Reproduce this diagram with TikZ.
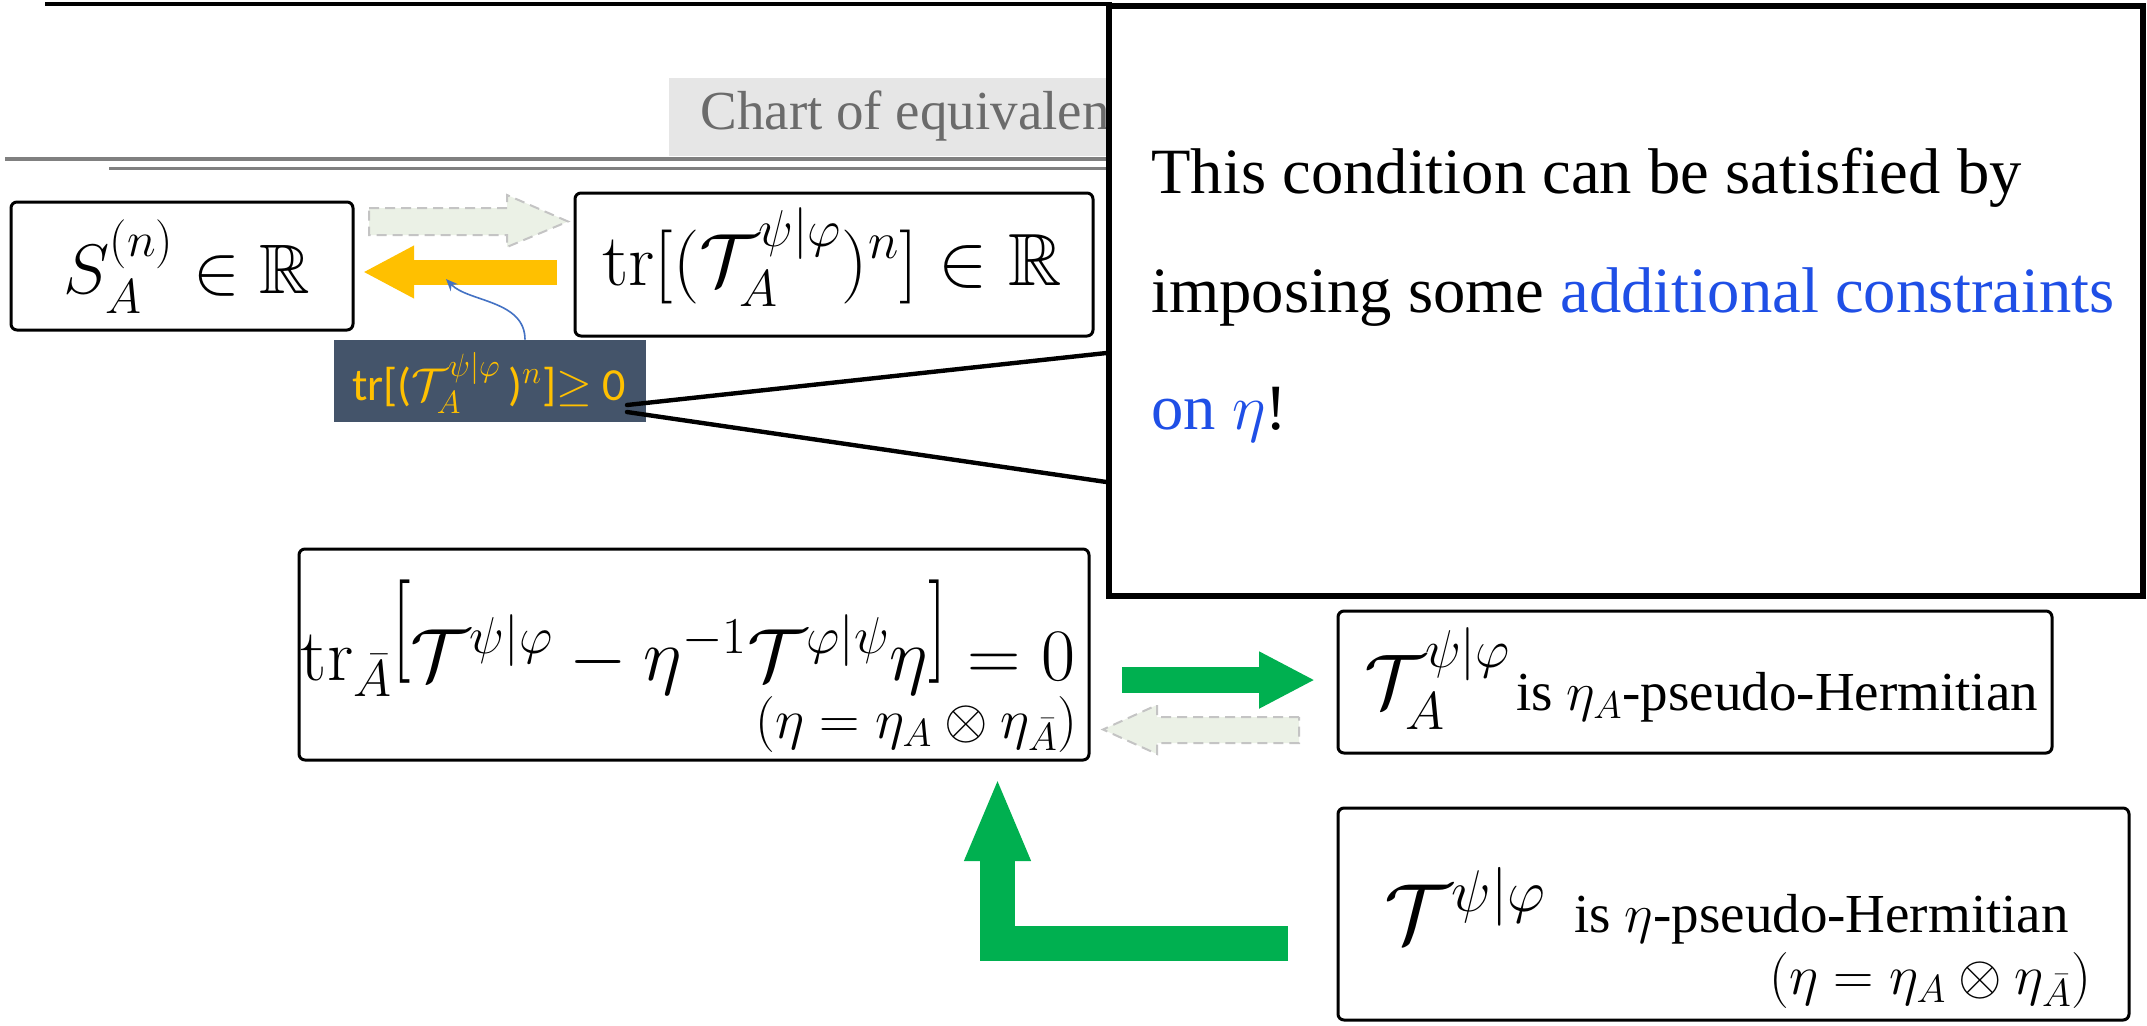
\RequirePackage{fix-cm}
\documentclass[tikz,border=0pt]{standalone}
\usepackage{amssymb}
\usepackage{graphicx}
\usepackage[no-math]{fontspec}
\setmainfont{Liberation Serif}
\newfontfamily\tms{Liberation Serif}
\newfontfamily\carlito{Carlito}
\usetikzlibrary{arrows.meta,fit}
\definecolor{orng}{HTML}{FFC000}
\definecolor{grn}{HTML}{00B050}
\definecolor{lblbg}{HTML}{44546A}
\definecolor{lightfill}{HTML}{EBF1E6}
\definecolor{lightedge}{HTML}{C4C4C4}
\definecolor{cblue}{HTML}{1F4FE6}
\definecolor{ttlgray}{HTML}{6B6B6B}
\definecolor{ttlbg}{HTML}{E6E6E6}
\definecolor{rulegray}{HTML}{808080}
\definecolor{curveblue}{HTML}{4472C4}
\newcommand{\rbl}{\mathopen{\raisebox{0.3em}{\scalebox{1}[1.4]{$[$}}}}
\newcommand{\rbr}{\mathclose{\raisebox{0.3em}{\scalebox{1}[1.4]{$]$}}}}
\tikzset{
  box/.style={draw=black, line width=1.5pt, rounded corners=3pt, inner sep=0pt},
  txt/.style={inner sep=0pt},
  ghost/.style={fill=lightfill, draw=lightedge, line width=1pt, dash pattern=on 5pt off 3pt},
  pointer/.style={line width=2.2pt, line cap=round},
}
\begin{document}
\begin{tikzpicture}[x=0.5pt,y=-0.5pt]
\useasboundingbox (0,0) rectangle (2147,1025);
\fill[white] (0,0) rectangle (2147,1025);
% header
\draw[line width=1.6pt] (45,4) -- (1112,4);
\fill[ttlbg] (669,78) rectangle (1112,156);
\node[txt, anchor=base west, text=ttlgray, font=\fontsize{27.5}{32}\selectfont\tms] (title) at (700,129) {Chart of equivalen};
\draw[rulegray, line width=2pt] (5,159) -- (1112,159);
\draw[rulegray, line width=1.5pt] (109,168) -- (1112,168);
% boxes
\node[box, fit={(11,202) (353,330)}] (S) {};
\node[txt, anchor=base, font=\fontsize{35}{42}\selectfont] (St) at (187,293) {$S_A^{(n)}\in\mathbb{R}$};
\node[box, fit={(575,193) (1093,336)}] (tr) {};
\node[txt, anchor=base, font=\fontsize{37}{44}\selectfont] (trt) at (832,285) {$\mathrm{tr}[(\mathcal{T}_A^{\psi|\varphi})^n]\in\mathbb{R}$};
\node[fit={(334,340) (646,422)}, fill=lblbg, inner sep=0pt] (lbl) {};
\node[txt, anchor=base, text=orng, font=\fontsize{23}{28}\selectfont\carlito] (lblt) at (489,400) {tr[($\mathcal{T}_A^{\psi|\varphi}$\,)$^n$]$\geq$ 0};
\node[box, fit={(299,549) (1089,760)}] (E) {};
\node[txt, anchor=base, font=\fontsize{37}{44}\selectfont] (Et1) at (688,680) {$\mathrm{tr}_{\bar A}\rbl\mathcal{T}^{\psi|\varphi}-\eta^{-1}\mathcal{T}^{\varphi|\psi}\eta\rbr=0$};
\node[txt, anchor=base east, font=\fontsize{28}{34}\selectfont] (Et2) at (1078,738) {$(\eta=\eta_A\otimes\eta_{\bar A})$};
\node[box, fit={(1338,611) (2052,753)}] (H) {};
\node[txt, anchor=base west, font=\fontsize{38}{46}\selectfont] (Hm) at (1364,707) {$\mathcal{T}_A^{\psi|\varphi}$};
\node[txt, anchor=base west, font=\fontsize{27.5}{33}\selectfont\tms] (Ht) at (1516,710) {is $\eta_A$-pseudo-Hermitian};
\node[box, fit={(1338,808) (2129,1020)}] (P) {};
\node[txt, anchor=base west, font=\fontsize{42}{50}\selectfont] (Pm) at (1384,942) {$\mathcal{T}^{\psi|\varphi}$};
\node[txt, anchor=base west, font=\fontsize{27.5}{33}\selectfont\tms] (Pt) at (1574,932) {is $\eta$-pseudo-Hermitian};
\node[txt, anchor=base east, font=\fontsize{28}{34}\selectfont] (Pn) at (2092,994) {$(\eta=\eta_A\otimes\eta_{\bar A})$};
% block arrows
\coordinate (o1) at (557,272);
\coordinate (o2) at (363,272);
\draw[orng, line width=12.5pt, -{Triangle[width=24.5pt,length=25.5pt]}] (o1) -- (o2);
\coordinate (g1) at (1122,680);
\coordinate (g2) at (1315,680);
\draw[grn, line width=13pt, -{Triangle[width=26.5pt,length=28pt]}] (g1) -- (g2);
\coordinate (l1) at (1288,943.5);
\coordinate (l2) at (997.5,777);
\draw[grn, line width=17.5pt, -{Triangle[width=30pt,length=42pt]}] (l1) -| (l2);
\draw[ghost] (369,208) -- (507,208) -- (507,195) -- (568,221.5) -- (507,247) -- (507,235) -- (369,235) -- cycle;
\draw[ghost] (1299,717) -- (1157,717) -- (1157,705) -- (1103,729.5) -- (1157,754) -- (1157,743) -- (1299,743) -- cycle;
% blue curve
\coordinate (bc) at (446,279);
\draw[curveblue, line width=0.8pt, -{Stealth[length=6pt,width=5pt]}] (lbl.north -| 525,0) .. controls (525,300) and (468,302) .. (bc);
% callout
\node[fit={(1109,6) (2143,596)}, draw=black, line width=2.6pt, fill=white, inner sep=0pt] (callout) {};
\node[txt, anchor=base west, font=\fontsize{32.3}{38}\selectfont\tms] (c1) at (1151,193) {This condition can be satisfied by};
\node[txt, anchor=base west, font=\fontsize{32.3}{38}\selectfont\tms] (c2) at (1151,312) {imposing some \textcolor{cblue}{additional constraints}};
\node[txt, anchor=base west, font=\fontsize{32.3}{38}\selectfont\tms] (c3) at (1151,429) {\textcolor{cblue}{on $\eta$}!};
\coordinate (pa) at (627,405);
\coordinate (pb) at (627,412);
\draw[pointer] (pa) -- (callout.west |- 0,353);
\draw[pointer] (pb) -- (callout.west |- 0,482);
\end{tikzpicture}
\end{document}
